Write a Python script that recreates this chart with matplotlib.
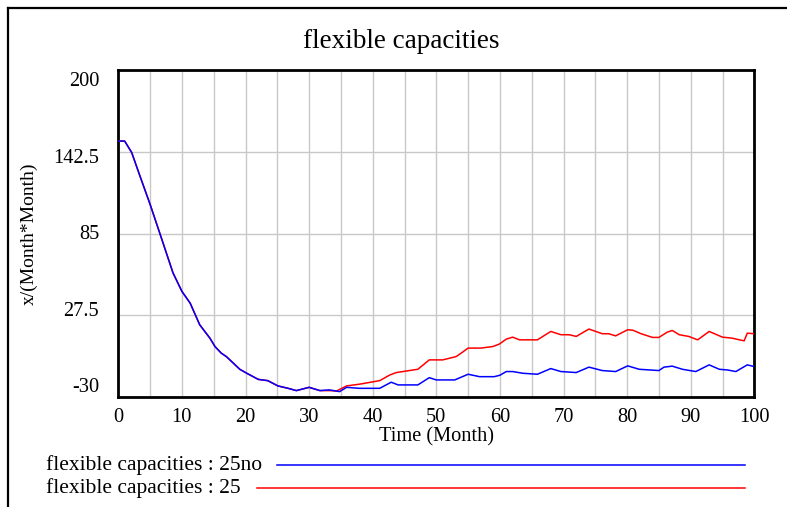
import matplotlib
matplotlib.use("Agg")
import matplotlib.pyplot as plt
from matplotlib.lines import Line2D

plt.rcParams['font.family'] = ['Liberation Serif', 'DejaVu Serif']

# ---- data ----
title = "flexible capacities"
x_label = "Time (Month)"
y_label = "x/(Month*Month)"
series_names = ["flexible capacities : 25no", "flexible capacities : 25"]

blue_t = [0, 1, 2.1, 3.4, 5, 6.5, 8.6, 10, 11.3, 12.8, 14.4, 15.2, 16.2, 17, 19.1,
          20.2, 22, 23.5, 25.1, 26.7, 28, 30, 31.7, 33.2, 34.8, 35.9, 37.9, 41.1,
          42.9, 44, 47.1, 48.9, 50, 52.9, 55, 56.8, 59.1, 60, 61, 62, 63.6, 65.9,
          68, 69.6, 72, 74, 76.1, 78.2, 80.1, 81.9, 85, 85.8, 87.1, 88.7, 90.8,
          92.9, 94.5, 95.8, 97.1, 98.9, 100]
blue_v = [150, 150, 142, 125.5, 105.5, 85.5, 57.3, 44.3, 36, 20.8, 11.4, 5.5, 0.8,
          -1.6, -10.5, -13.3, -17.6, -18.5, -22.2, -23.9, -25.5, -23.2, -25.5, -25,
          -26.2, -23.2, -23.9, -23.9, -19.6, -21.5, -21.5, -16.4, -18, -18, -14,
          -15.7, -15.7, -14.7, -12.1, -12.1, -13.3, -14, -10, -12.1, -12.8, -9,
          -11.4, -12.1, -8.1, -10.5, -11.4, -9, -8.3, -10.5, -12.1, -7.4, -10.5,
          -11, -12.1, -7.4, -8.6]

red_t = [0, 1, 2.1, 3.4, 5, 6.5, 8.6, 10, 11.3, 12.8, 14.4, 15.2, 16.2, 17, 19.1,
         20.2, 22, 23.5, 25.1, 26.7, 28, 30, 31.7, 33.2, 34.3, 35.9, 37.9, 41.1,
         42.7, 43.7, 47.1, 48.9, 51, 53.1, 53.9, 55, 57, 58.9, 59.9, 61, 62, 63.1,
         65.9, 68, 69.6, 70.9, 72, 74, 76.1, 77.1, 78.2, 80.1, 80.9, 82.2, 84, 85,
         86.3, 87.1, 88.2, 89.7, 91.1, 92.9, 95, 96.5, 98.4, 98.9, 100]
red_v = [150, 150, 142, 125.5, 105.5, 85.5, 57.3, 44.3, 36, 20.8, 11.4, 5.5, 0.8,
         -1.6, -10.5, -13.3, -17.6, -18.5, -22.2, -23.9, -25.5, -23.2, -25.5, -25.5,
         -25.8, -22.2, -21, -18.5, -14.5, -12.8, -10.5, -3.9, -3.9, -1.6, 0.8, 4.4,
         4.4, 5.5, 7.2, 10.7, 12.1, 10.2, 10.2, 16.1, 13.8, 13.8, 12.6, 17.8, 14.5,
         14.5, 13, 17.3, 17, 14.5, 11.9, 11.9, 15.6, 16.8, 13.8, 12.6, 10.2, 16.1,
         12.1, 11.4, 9.5, 14.9, 14.5]

y_ticks = [-30, 27.5, 85, 142.5, 200]
y_tick_labels = ["-30", "27.5", "85", "142.5", "200"]
x_major = list(range(0, 101, 10))
x_minor = list(range(0, 101, 5))

# ---- figure ----
W, H = 787, 507
fig = plt.figure(figsize=(W / 100, H / 100), dpi=100)
ax = fig.add_axes([118.3 / W, 110 / H, 636 / W, 327 / H])

ax.plot(red_t, red_v, color='#ff0000', lw=1.1, zorder=3)
ax.plot(blue_t, blue_v, color='#0000ff', lw=1.1, zorder=4)

ax.set_xlim(0, 100)
ax.set_ylim(-30, 200)
ax.set_xticks(x_major)
ax.set_xticks(x_minor, minor=True)
ax.set_yticks(y_ticks)
ax.set_yticklabels([])
ax.grid(True, which='both', axis='x', color='#c8c8c8', lw=1.0)
ax.grid(True, which='major', axis='y', color='#c8c8c8', lw=1.0)
ax.tick_params(axis='both', which='both', length=0)
ax.tick_params(axis='x', labelsize=14.7, pad=8)
for s in ax.spines.values():
    s.set_linewidth(2.0)
    s.set_color('black')

# y tick labels (Vensim spaces them evenly slightly inside the axis range)
for i, lab in enumerate(y_tick_labels):
    ax.text(-0.030, 0.028 + i * 0.234, lab, transform=ax.transAxes,
            ha='right', va='center', fontsize=14.7)

ax.set_xlabel(x_label, fontsize=14.7)
ax.xaxis.set_label_coords(0.5, -0.122)
ax.xaxis.label.set_va('center')
ax.set_ylabel(y_label, fontsize=14)
ax.yaxis.set_label_coords(-0.140, 0.5)
ax.yaxis.label.set_va('center')

fig.text(401 / W, 1 - 42 / H, title, ha='center', va='center', fontsize=19.5)

# outer frame (partially cut by the image edge)
fig.add_artist(Line2D([8 / W, 8 / W], [0, 1 - 8 / H], color='black', lw=1.6,
                      transform=fig.transFigure))
fig.add_artist(Line2D([8 / W, 1], [1 - 8 / H, 1 - 8 / H], color='black', lw=1.6,
                      transform=fig.transFigure))

# legend
leg_rows = [(series_names[0], '#0000ff', 465, 277),
            (series_names[1], '#ff0000', 488, 257)]
for name, col, ypx, x0 in leg_rows:
    fig.text(46 / W, 1 - ypx / H, name, ha='left', va='center', fontsize=15.5)
    fig.add_artist(Line2D([x0 / W, 745 / W], [1 - ypx / H, 1 - ypx / H],
                          color=col, lw=1.1, transform=fig.transFigure))

fig.savefig("out.png", dpi=100)
